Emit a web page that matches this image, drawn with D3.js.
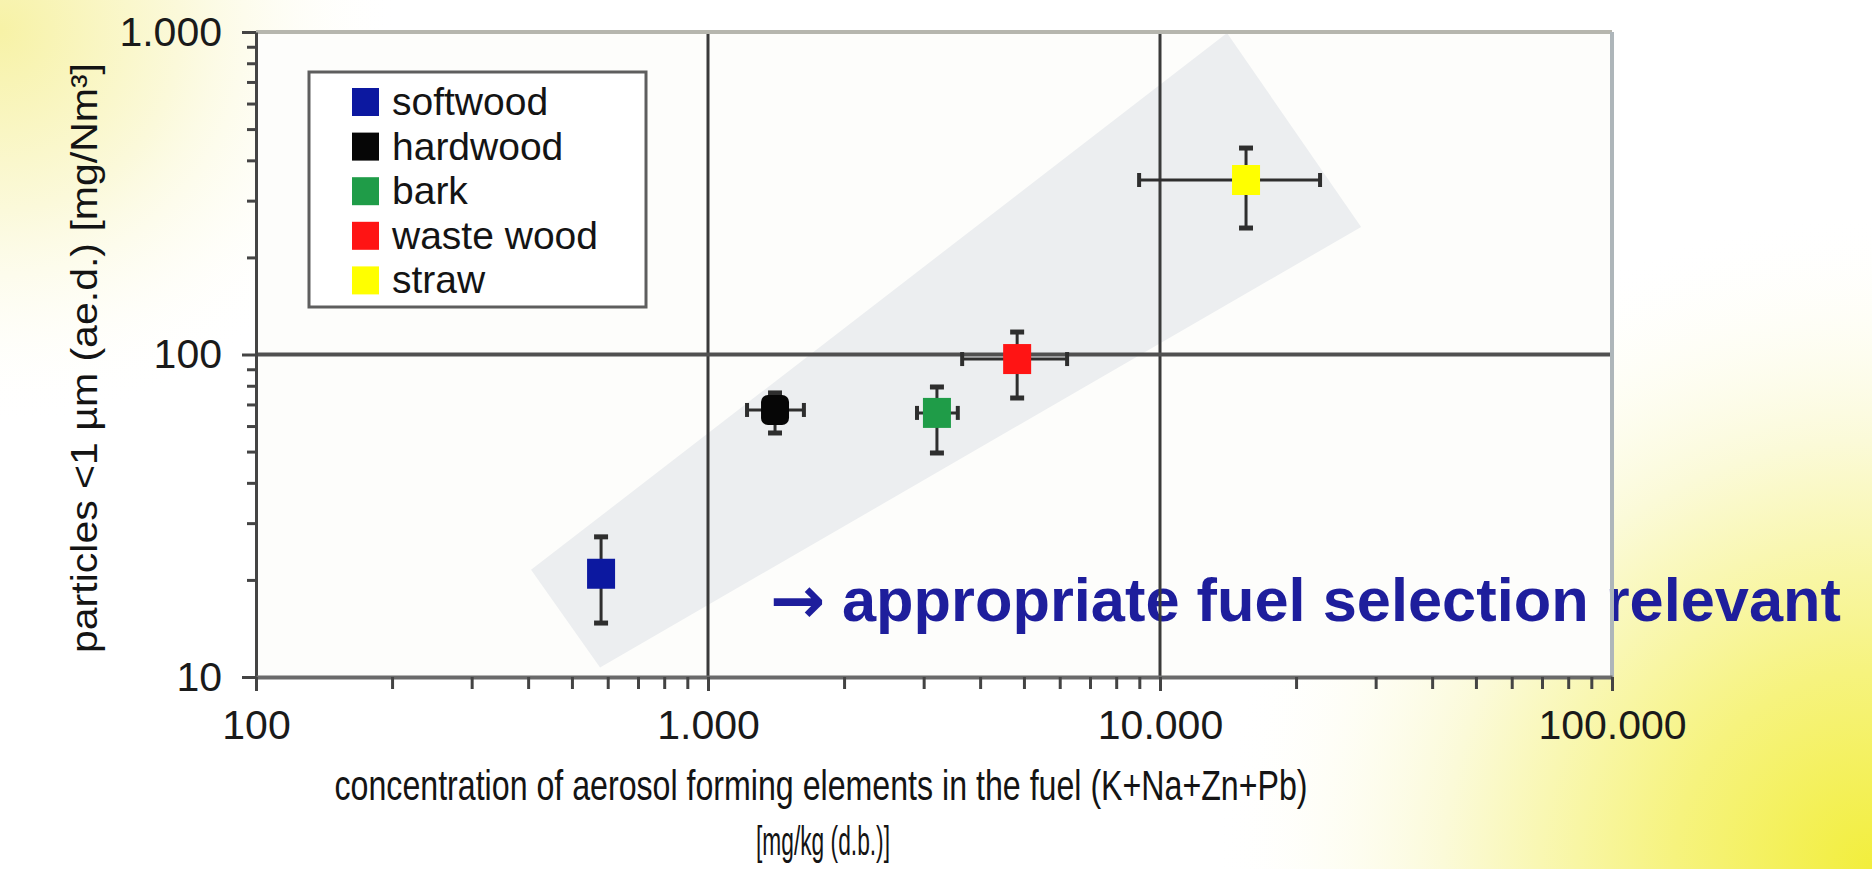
<!DOCTYPE html>
<html>
<head>
<meta charset="utf-8">
<script src="https://cdn.jsdelivr.net/npm/d3@7"></script>
<style>
  html, body { margin: 0; padding: 0; background: #ffffff; }
  svg { display: block; }
  text { font-family: "Liberation Sans", Arial, sans-serif; }
</style>
</head>
<body>
<svg id="chart" width="1872" height="869"></svg>
<script>
// Fuel types and their measured values
const fuels = ["softwood", "hardwood", "bark", "waste wood", "straw"];
const fuelColors = ["#0c18a0", "#060606", "#1f9c48", "#ff1414", "#ffff00"];
// concentration of aerosol forming elements [mg/kg (d.b.)]
const conc = [580, 1407, 3210, 4830, 15500];
const concLow = [580, 1220, 2900, 3650, 8990];
const concHigh = [580, 1630, 3570, 6230, 22600];
// particles < 1 µm [mg/Nm³]
const particles = [20.9, 67.3, 65.9, 96.8, 347.6];
const particlesLow = [14.7, 57.1, 49.5, 73.3, 246.7];
const particlesHigh = [27.2, 76.0, 79.3, 117.4, 436.7];
// trend band corners (concentration, particles)
const bandConc = [406, 577, 27860, 14070];
const bandParticles = [21.5, 10.7, 248.6, 993];
// decade tick labels
const xTickValues = [100, 1000, 10000, 100000];
const yTickValues = [10, 100, 1000];

const svg = d3.select("#chart");
const W = 1872, H = 869;

// background glows
const defs = svg.append("defs");
const g1 = defs.append("radialGradient").attr("id", "glowTL")
  .attr("gradientUnits", "userSpaceOnUse").attr("cx", 0).attr("cy", 30).attr("r", 400);
g1.append("stop").attr("offset", 0).attr("stop-color", "#f7f2a6");
g1.append("stop").attr("offset", 0.45).attr("stop-color", "#fbf9da");
g1.append("stop").attr("offset", 1).attr("stop-color", "#ffffff").attr("stop-opacity", 0);
const g2 = defs.append("radialGradient").attr("id", "glowBR")
  .attr("gradientUnits", "userSpaceOnUse").attr("cx", 1872).attr("cy", 869).attr("r", 660);
g2.append("stop").attr("offset", 0).attr("stop-color", "#f2ee3c");
g2.append("stop").attr("offset", 0.3).attr("stop-color", "#f6f37e");
g2.append("stop").attr("offset", 0.65).attr("stop-color", "#fbfad8");
g2.append("stop").attr("offset", 1).attr("stop-color", "#ffffff").attr("stop-opacity", 0);

svg.append("rect").attr("width", W).attr("height", H).attr("fill", "#ffffff");
svg.append("rect").attr("width", W).attr("height", H).attr("fill", "url(#glowTL)");
svg.append("rect").attr("width", W).attr("height", H).attr("fill", "url(#glowBR)");

const x = d3.scaleLog().domain([100, 100000]).range([256, 1612]);
const y = d3.scaleLog().domain([10, 1000]).range([677, 32]);

const deLocale = d3.formatLocale({ decimal: ",", thousands: ".", grouping: [3], currency: ["", ""] });
const fmt = deLocale.format(",d");

// plot area
svg.append("rect")
  .attr("x", x(100)).attr("y", y(1000))
  .attr("width", x(100000) - x(100)).attr("height", y(10) - y(1000))
  .attr("fill", "#fdfdfb");

// shaded trend band
const bandPts = bandConc.map((c, i) => [x(c), y(bandParticles[i])]);
svg.append("path")
  .attr("d", d3.line()(bandPts) + "Z")
  .attr("fill", "#eceef0");

// annotation (below the grid lines)
const note = svg.append("text")
  .attr("y", 621)
  .attr("font-weight", "bold")
  .attr("fill", "#1e1e9c");
note.append("tspan")
  .attr("x", 770)
  .attr("font-family", "'DejaVu Sans', sans-serif")
  .attr("font-size", 66)
  .attr("dy", 2)
  .text("→");
note.append("tspan")
  .attr("x", 842)
  .attr("dy", -2)
  .attr("font-size", 62)
  .attr("textLength", 999).attr("lengthAdjust", "spacingAndGlyphs")
  .text("appropriate fuel selection relevant");

// decade grid lines
svg.append("g").selectAll("line").data([1000, 10000]).join("line")
  .attr("x1", d => x(d)).attr("x2", d => x(d))
  .attr("y1", y(1000)).attr("y2", y(10))
  .attr("stroke", "#3a3a3a").attr("stroke-width", 3);
svg.append("line")
  .attr("x1", x(100)).attr("x2", x(100000))
  .attr("y1", y(100)).attr("y2", y(100))
  .attr("stroke", "#505050").attr("stroke-width", 4);

// frame: top and right edges
svg.append("line")
  .attr("x1", x(100)).attr("x2", x(100000)).attr("y1", y(1000)).attr("y2", y(1000))
  .attr("stroke", "#b6b6ae").attr("stroke-width", 4);
svg.append("line")
  .attr("x1", x(100000)).attr("x2", x(100000)).attr("y1", y(1000)).attr("y2", y(10))
  .attr("stroke", "#aeb6ba").attr("stroke-width", 4);

// all 1..9 × 10^n tick positions
const minorX = [];
for (let e = 2; e < 5; e++) for (let m = 1; m < 10; m++) minorX.push(m * Math.pow(10, e));
minorX.push(100000);
const minorY = [];
for (let e = 1; e < 3; e++) for (let m = 1; m < 10; m++) minorY.push(m * Math.pow(10, e));
minorY.push(1000);

const isDecade = v => Math.abs(Math.log10(v) - Math.round(Math.log10(v))) < 1e-9;

// y axis
const yAxis = svg.append("g").attr("transform", `translate(${x(100)},0)`)
  .call(d3.axisLeft(y).tickValues(minorY).tickSize(9).tickPadding(25).tickSizeOuter(0)
    .tickFormat(d => yTickValues.includes(d) ? fmt(d) : ""));
yAxis.select(".domain").attr("stroke", "#444").attr("stroke-width", 3);
yAxis.selectAll(".tick line").attr("stroke", "#444").attr("stroke-width", 3)
  .attr("x2", d => isDecade(d) ? -14 : -9);
yAxis.selectAll(".tick text").attr("font-size", 41).attr("fill", "#1a1a1a")
  .attr("font-family", "'Liberation Sans', Arial, sans-serif");

// x axis
const xAxis = svg.append("g").attr("transform", `translate(0,${y(10)})`)
  .call(d3.axisBottom(x).tickValues(minorX).tickSize(12).tickPadding(21).tickSizeOuter(0)
    .tickFormat(d => xTickValues.includes(d) ? fmt(d) : ""));
xAxis.select(".domain").attr("stroke", "#6a6a6a").attr("stroke-width", 4);
xAxis.selectAll(".tick line").attr("stroke", "#444").attr("stroke-width", 3)
  .attr("y2", d => isDecade(d) ? 14 : 12);
xAxis.selectAll(".tick text").attr("font-size", 41).attr("fill", "#1a1a1a")
  .attr("font-family", "'Liberation Sans', Arial, sans-serif");

// error bars
const eb = svg.append("g").attr("stroke", "#2e2e2e");
fuels.forEach((f, i) => {
  const cx = x(conc[i]), cy = y(particles[i]);
  // vertical
  eb.append("line").attr("x1", cx).attr("x2", cx)
    .attr("y1", y(particlesLow[i])).attr("y2", y(particlesHigh[i])).attr("stroke-width", 3);
  [particlesLow[i], particlesHigh[i]].forEach(v => {
    eb.append("line").attr("x1", cx - 7).attr("x2", cx + 7)
      .attr("y1", y(v)).attr("y2", y(v)).attr("stroke-width", 5);
  });
  // horizontal
  if (concHigh[i] !== concLow[i]) {
    eb.append("line").attr("y1", cy).attr("y2", cy)
      .attr("x1", x(concLow[i])).attr("x2", x(concHigh[i])).attr("stroke-width", 3);
    [concLow[i], concHigh[i]].forEach(v => {
      eb.append("line").attr("y1", cy - 7).attr("y2", cy + 7)
        .attr("x1", x(v)).attr("x2", x(v)).attr("stroke-width", 4);
    });
  }
});

// markers
svg.append("g").selectAll("rect").data(fuels).join("rect")
  .attr("x", (d, i) => x(conc[i]) - 14)
  .attr("y", (d, i) => y(particles[i]) - 15)
  .attr("width", 28).attr("height", 30)
  .attr("rx", (d, i) => d === "hardwood" ? 7 : 0)
  .attr("fill", (d, i) => fuelColors[i]);

// legend
const lg = svg.append("g");
lg.append("rect").attr("x", 309).attr("y", 72).attr("width", 337).attr("height", 235)
  .attr("fill", "#ffffff").attr("stroke", "#5e5e5e").attr("stroke-width", 3);
const rows = lg.selectAll("g.row").data(fuels).join("g").attr("class", "row")
  .attr("transform", (d, i) => `translate(352,${102 + i * 44.6})`);
rows.append("rect").attr("x", 0).attr("y", -14).attr("width", 27).attr("height", 28)
  .attr("fill", (d, i) => fuelColors[i]);
rows.append("text").attr("x", 40).attr("y", 13).attr("font-size", 39).attr("fill", "#141414")
  .text(d => d);

// axis titles
svg.append("text")
  .attr("x", 821).attr("y", 800).attr("text-anchor", "middle")
  .attr("font-size", 42).attr("fill", "#141414")
  .attr("textLength", 973).attr("lengthAdjust", "spacingAndGlyphs")
  .text("concentration of aerosol forming elements in the fuel (K+Na+Zn+Pb)");
svg.append("text")
  .attr("x", 823).attr("y", 855).attr("text-anchor", "middle")
  .attr("font-size", 40).attr("fill", "#141414")
  .attr("textLength", 134).attr("lengthAdjust", "spacingAndGlyphs")
  .text("[mg/kg (d.b.)]");
svg.append("text")
  .attr("transform", "translate(97,358) rotate(-90)")
  .attr("text-anchor", "middle")
  .attr("font-size", 37).attr("fill", "#141414")
  .attr("textLength", 590).attr("lengthAdjust", "spacingAndGlyphs")
  .text("particles <1 µm (ae.d.) [mg/Nm³]");
</script>
</body>
</html>
